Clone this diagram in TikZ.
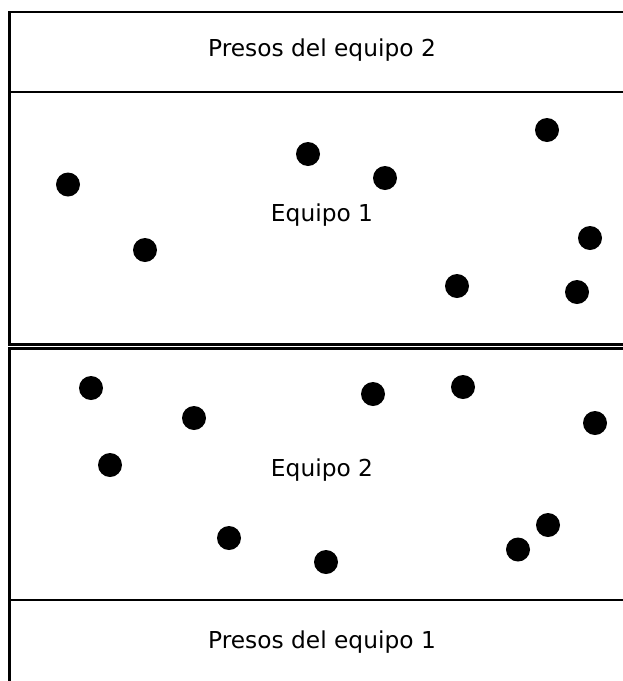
\documentclass[tikz,border=0pt]{standalone}
\usepackage{fontspec}
\setmainfont{DejaVu Sans}
\begin{document}
\begin{tikzpicture}[x=1pt,y=-1pt,
  frame/.style={line width=2.6pt,draw=black},
  player/.style={circle,fill=black,minimum size=24pt,inner sep=0pt},
  label/.style={anchor=base,font=\fontsize{23.3}{27}\selectfont,inner sep=0pt}]
\useasboundingbox (0,0) rectangle (623,681);
\clip (0,0) rectangle (623,681);
\fill[white] (0,0) rectangle (623,681);
% boxes
\draw[frame] (9.5,12) rectangle (640,92);
\draw[frame] (9.5,92) rectangle (640,344.6);
\draw[frame] (9.5,348.4) rectangle (640,600);
\draw[frame] (9.5,600) rectangle (640,700);
% labels
\node[label] (p2) at (322,56.5) {Presos del equipo 2};
\node[label] (e1) at (322,221.5) {Equipo 1};
\node[label] (e2) at (322,476.7) {Equipo 2};
\node[label] (p1) at (322,648) {Presos del equipo 1};
% team 1
\node[player] (a1) at (68,184.5) {};
\node[player] (a2) at (145,250) {};
\node[player] (a3) at (308,154) {};
\node[player] (a4) at (385,178) {};
\node[player] (a5) at (547,130) {};
\node[player] (a6) at (590,238) {};
\node[player] (a7) at (457,286) {};
\node[player] (a8) at (577,292) {};
% team 2
\node[player] (b1) at (91,388) {};
\node[player] (b2) at (194,418) {};
\node[player] (b3) at (110,465) {};
\node[player] (b4) at (373,394) {};
\node[player] (b5) at (463,387) {};
\node[player] (b6) at (595,423) {};
\node[player] (b7) at (229,538) {};
\node[player] (b8) at (326,562) {};
\node[player] (b9) at (518,549.5) {};
\node[player] (b10) at (548,525) {};
\end{tikzpicture}
\end{document}
